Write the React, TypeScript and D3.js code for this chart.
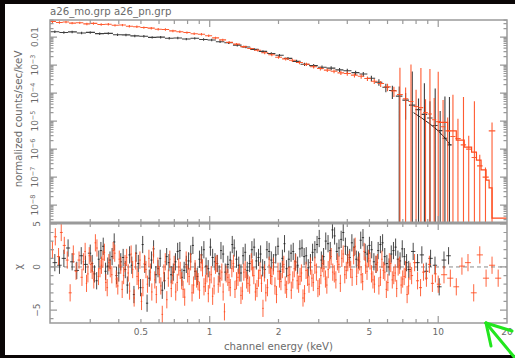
import React from "react";
import * as d3 from "d3";

// ---------- text ----------
const titleText = "a26_mo.grp a26_pn.grp";
const xAxisTitle = "channel energy (keV)";
const yAxisTitle = "normalized counts/sec/keV";
const resAxisTitle = "χ";
const xTickLabels = [0.5, 1, 2, 5, 10, 20];
const fluxTickExponents = [-8, -7, -6, -5, -4, -3, -2];
const resTickLabels = [-5, 0, 5];

// ---------- upper panel: MOS (black) ----------
const mosE = [0.21, 0.23, 0.25, 0.275, 0.3, 0.33, 0.36, 0.395, 0.43, 0.47,
  0.515, 0.56, 0.61, 0.665, 0.725, 0.79, 0.86, 0.94, 1.02, 1.11,
  1.21, 1.32, 1.44, 1.57, 1.71, 1.86, 2.02, 2.2, 2.4, 2.6,
  2.85, 3.1, 3.4, 3.7, 4.0, 4.35, 4.7, 5.1, 5.5, 5.9,
  6.3, 6.75, 7.2, 7.7, 8.2, 8.7, 9.2, 9.7, 10.2, 10.7, 11.2];
const mosFlux = [1.55e-2, 1.46e-2, 1.53e-2, 1.40e-2, 1.47e-2, 1.33e-2, 1.36e-2, 1.21e-2, 1.20e-2, 1.10e-2,
  1.07e-2, 0.98e-2, 9.95e-3, 9.10e-3, 9.30e-3, 8.50e-3, 9.05e-3, 8.20e-3, 7.85e-3, 6.80e-3,
  6.25e-3, 5.15e-3, 4.45e-3, 3.65e-3, 3.08e-3, 2.58e-3, 2.24e-3, 1.74e-3, 1.36e-3, 1.07e-3,
  9.55e-4, 8.32e-4, 7.80e-4, 6.76e-4, 6.31e-4, 5.37e-4, 4.79e-4, 3.39e-4, 2.45e-4, 1.62e-4,
  1.23e-4, 7.76e-5, 5.62e-5, 3.72e-5, 2.57e-5, 1.74e-5, 1.29e-5, 6.92e-6, 4.57e-6, 2.45e-6, 1.41e-6];
const mosRelErr = [0.1, 0.1, 0.1, 0.1, 0.1, 0.1, 0.1, 0.1, 0.1, 0.1,
  0.1, 0.1, 0.1, 0.1, 0.1, 0.1, 0.1, 0.1, 0.1, 0.1,
  0.1, 0.1, 0.1, 0.1, 0.11, 0.11, 0.12, 0.12, 0.13, 0.13,
  0.14, 0.15, 0.16, 0.17, 0.17, 0.18, 0.19, 0.22, 0.26, 0.34,
  0.5, 1.2, 0.8, 15, 1.5, 12, 3, 20, 4, 30, 50];
const mosModelE = [7.8, 8.5, 9.2, 10.0, 10.7, 11.3];
const mosModel = [2.0e-5, 1.26e-5, 7.9e-6, 4.5e-6, 2.5e-6, 1.38e-6];

// ---------- upper panel: PN (red) ----------
const pnE = [0.205, 0.22, 0.235, 0.25, 0.27, 0.29, 0.31, 0.335, 0.36, 0.385,
  0.415, 0.445, 0.48, 0.515, 0.555, 0.595, 0.64, 0.69, 0.74, 0.795,
  0.855, 0.92, 0.99, 1.06, 1.14, 1.22, 1.31, 1.41, 1.51, 1.62,
  1.74, 1.87, 2.0, 2.15, 2.3, 2.47, 2.65, 2.85, 3.05, 3.27,
  3.5, 3.75, 4.0, 4.3, 4.6, 4.9, 5.25, 5.6, 6.0, 6.4,
  6.8, 7.2, 7.6, 8.0, 8.4, 8.8, 9.2, 9.6, 10.0, 10.5,
  11.0, 11.6, 12.2, 12.9, 13.6, 14.4, 15.2, 16.1, 17.2];
const pnFlux = [3.63e-2, 3.31e-2, 3.47e-2, 3.16e-2, 3.24e-2, 2.95e-2, 3.09e-2, 2.82e-2, 2.88e-2, 2.63e-2,
  2.69e-2, 2.45e-2, 2.34e-2, 2.19e-2, 2.09e-2, 1.91e-2, 1.86e-2, 1.66e-2, 1.55e-2, 1.45e-2,
  1.32e-2, 1.26e-2, 1.12e-2, 9.33e-3, 7.94e-3, 6.46e-3, 5.62e-3, 4.57e-3, 3.89e-3, 3.39e-3,
  2.75e-3, 2.34e-3, 1.91e-3, 1.66e-3, 1.48e-3, 1.23e-3, 1.07e-3, 8.71e-4, 7.59e-4, 6.61e-4,
  6.03e-4, 5.25e-4, 5.01e-4, 4.37e-4, 3.98e-4, 3.31e-4, 2.63e-4, 2.19e-4, 1.66e-4, 1.20e-4,
  8.91e-5, 6.31e-5, 5.01e-5, 3.31e-5, 3.02e-5, 2.0e-5, 1.78e-5, 1.12e-5, 9.55e-6, 6.31e-6,
  4.47e-6, 2.82e-6, 2.40e-6, 1.41e-6, 1.0e-6, 5.01e-7, 2.51e-7, 1.0e-7, 4.47e-6];
const pnRelErr = [0.12, 0.1, 0.1, 0.1, 0.1, 0.1, 0.1, 0.1, 0.1, 0.1,
  0.1, 0.1, 0.1, 0.1, 0.1, 0.1, 0.1, 0.1, 0.1, 0.1,
  0.1, 0.1, 0.1, 0.1, 0.1, 0.1, 0.1, 0.1, 0.1, 0.1,
  0.11, 0.11, 0.12, 0.12, 0.13, 0.13, 0.14, 0.14, 0.15, 0.15,
  0.15, 0.16, 0.17, 0.17, 0.18, 0.19, 0.2, 0.24, 0.3, 0.4,
  8, 1.5, 20, 3, 25, 2, 40, 5, 60, 8,
  2, 30, 4, 50, 2, 100, 1.5, 1.2, 1.0];
const pnModelE = [10.0, 11.0, 12.0, 13.0, 14.0, 14.7, 15.4, 16.2, 16.7, 17.2, 20.0];
const pnModel = [9.0e-6, 4.5e-6, 2.1e-6, 1.17e-6, 7.8e-7, 4.0e-7, 1.8e-7, 7.8e-8, 4.1e-8, 3.4e-9, 3.4e-9];

// ---------- lower panel: residuals (MOS) ----------
const mosResE = [0.21, 0.22, 0.23, 0.24, 0.25, 0.262, 0.274, 0.286, 0.3, 0.313,
  0.327, 0.342, 0.358, 0.374, 0.391, 0.408, 0.427, 0.446, 0.466, 0.487,
  0.509, 0.532, 0.556, 0.581, 0.607, 0.634, 0.663, 0.693, 0.724, 0.756,
  0.79, 0.826, 0.863, 0.902, 0.943, 0.985, 1.03, 1.08, 1.12, 1.17,
  1.23, 1.28, 1.34, 1.4, 1.46, 1.53, 1.6, 1.67, 1.74, 1.82,
  1.9, 1.99, 2.08, 2.17, 2.27, 2.37, 2.48, 2.59, 2.7, 2.82,
  2.95, 3.08, 3.22, 3.37, 3.52, 3.68, 3.84, 4.01, 4.19, 4.38,
  4.58, 4.79, 5.0, 5.23, 5.46, 5.71, 5.96, 6.23, 6.51, 6.81,
  7.11, 7.43, 7.77, 8.12, 8.48, 8.86, 9.26, 9.68, 10.1, 10.6, 11.1];
const mosRes = [0.5, 0.2, 1.0, 2.2, 0.6, -0.4, 1.3, 0.3, 1.6, -0.8,
  0.9, 2.4, 0.1, 1.2, -1.0, 0.6, -0.3, 1.4, -3.2, 0.4,
  2.6, -4.2, 0.8, -0.9, 1.0, -1.6, 0.5, -0.6, 1.8, -1.2,
  0.3, 1.5, -0.5, 0.9, 2.0, -0.2, 1.1, 0.4, 1.9, -0.6,
  0.8, 2.2, 0.2, 1.3, -0.4, 2.0, 0.7, 1.5, -0.3, 1.8,
  0.5, 2.4, 1.0, -0.2, 1.6, 0.6, 2.1, 1.2, -0.1, 1.7,
  2.6, 0.8, 3.0, 1.9, 3.6, 2.2, 4.0, 1.4, 2.8, 0.9,
  3.1, 1.7, 2.5, 0.6, 1.9, 2.8, 0.4, 1.5, 2.3, 0.7,
  1.2, -0.3, 1.8, 0.5, 1.4, -0.5, 1.0, 0.2, -2.3, 0.8, 1.3];
const mosResE2 = [0.306, 0.32, 0.334, 0.35, 0.366, 0.382, 0.4, 0.418, 0.436, 0.456,
  0.476, 0.498, 0.52, 0.544, 0.568, 0.594, 0.62, 0.648, 0.678, 0.708,
  0.74, 0.773, 0.808, 0.844, 0.882, 0.922, 0.964, 1.007, 1.055, 1.1,
  1.145, 1.2, 1.255, 1.31, 1.37, 1.43, 1.495, 1.565, 1.635, 1.705,
  1.78, 1.86, 1.945, 2.035, 2.125, 2.22, 2.32, 2.425, 2.535, 2.645,
  2.76, 2.885, 3.015, 3.15, 3.295, 3.445, 3.6, 3.76, 3.925, 4.1,
  4.285, 4.48, 4.685, 4.895, 5.115, 5.345, 5.585, 5.835, 6.095, 6.37,
  6.66, 6.96, 7.27];
const mosRes2 = [0.4, -1.6, 1.9, -0.5, 0.8, 2.9, -0.7, 1.1, -2.1, 0.2,
  1.6, -2.4, 0.3, -1.3, 2.1, -0.2, -2.7, 1.2, -0.9, 0.6,
  1.9, -0.4, 0.7, 2.5, -1.1, 1.4, 0.1, 2.3, 0.6, -0.8,
  1.5, 0.3, 2.6, 0.9, -0.7, 1.7, 0.4, 2.3, 1.1, -0.1,
  2.0, 0.8, 1.4, -0.5, 2.7, 0.9, 1.8, 0.2, 2.2, 1.3,
  0.5, 2.0, 3.3, 1.2, 2.7, 4.3, 1.8, 3.2, 2.4, 1.1,
  2.3, 0.8, 3.4, 1.5, 2.0, 0.3, 2.6, 1.2, 0.0, 1.9,
  0.9, 2.1, 0.5];

// ---------- lower panel: residuals (PN) ----------
const pnResE = [0.205, 0.211, 0.218, 0.224, 0.231, 0.238, 0.245, 0.253, 0.26, 0.268,
  0.276, 0.285, 0.293, 0.302, 0.311, 0.321, 0.331, 0.341, 0.351, 0.362,
  0.373, 0.384, 0.396, 0.408, 0.42, 0.433, 0.446, 0.46, 0.474, 0.488,
  0.503, 0.518, 0.534, 0.55, 0.567, 0.584, 0.602, 0.62, 0.639, 0.659,
  0.679, 0.699, 0.721, 0.743, 0.765, 0.789, 0.813, 0.837, 0.863, 0.889,
  0.916, 0.944, 0.973, 1.0, 1.03, 1.06, 1.09, 1.13, 1.16, 1.2,
  1.23, 1.27, 1.31, 1.35, 1.39, 1.43, 1.47, 1.52, 1.56, 1.61,
  1.66, 1.71, 1.76, 1.82, 1.87, 1.93, 1.99, 2.05, 2.11, 2.17,
  2.24, 2.31, 2.38, 2.45, 2.52, 2.6, 2.68, 2.76, 2.84, 2.93,
  3.02, 3.11, 3.21, 3.3, 3.4, 3.51, 3.62, 3.73, 3.84, 3.96,
  4.08, 4.2, 4.33, 4.46, 4.6, 4.74, 4.88, 5.03, 5.18, 5.34,
  5.5, 5.67, 5.84, 6.02, 6.2, 6.39, 6.58, 6.78, 6.99, 7.2,
  7.42, 7.65, 7.88, 8.12, 8.37, 8.62, 8.88, 9.15, 9.43, 9.72,
  10.0, 10.6, 11.3, 12.0, 12.7, 13.5, 14.3, 15.2, 16.2, 17.2, 18.3];
const pnRes = [2.0, 3.5, 1.2, 4.0, 2.5, 0.8, -3.0, 1.5, -0.5, 0.8,
  -1.2, 1.8, -0.8, 0.3, -1.5, 2.2, -0.2, 0.9, -1.8, 0.5,
  -0.9, 1.6, -2.2, 0.2, -1.0, 1.1, -2.8, -0.3, 0.7, -1.6,
  -4.0, 0.4, -2.0, -0.6, 1.4, -3.2, -0.9, -5.5, 0.6, -1.3,
  -2.5, 0.3, -1.8, -0.4, -2.6, 0.8, -1.1, -3.0, -0.2, -1.7,
  0.5, -2.3, -0.8, -1.5, -3.4, 0.2, -2.0, -0.6, -5.2, -1.2,
  -2.4, 0.4, -1.6, -0.7, -2.8, -0.3, -1.9, 0.6, -1.0, -2.5,
  -0.4, -4.8, -3.0, 0.2, -1.1, -2.2, -0.5, -1.7, 0.3, -2.6,
  -0.9, -1.5, 0.5, -2.0, -0.7, -3.1, -1.2, 0.1, -1.8, -0.6,
  -2.3, 0.4, -1.4, -0.3, 1.2, -0.8, 0.6, -1.9, 1.5, -0.4,
  0.9, -1.2, 2.4, 0.2, -0.9, 1.8, -0.5, 0.7, -1.5, 0.3,
  -2.2, 0.9, -0.6, -1.8, 0.4, -1.0, -2.5, 0.2, -1.4, -0.3,
  -2.2, -1.0, 0.5, -1.6, -2.4, -0.6, -1.3, 0.3, -1.9, -0.8,
  -2.0, -0.9, -1.3, -2.3, 0.1, 0.5, -3.0, 1.4, -1.3, 0.2, -1.3];
const pnResE2 = [0.28, 0.289, 0.297, 0.306, 0.316, 0.326, 0.336, 0.346, 0.356, 0.367,
  0.378, 0.39, 0.402, 0.414, 0.426, 0.44, 0.453, 0.467, 0.481, 0.495,
  0.51, 0.526, 0.542, 0.558, 0.575, 0.593, 0.611, 0.63, 0.649, 0.669,
  0.689, 0.71, 0.732, 0.754, 0.777, 0.801, 0.825, 0.85, 0.876, 0.902,
  0.93, 0.958, 0.986, 1.015, 1.045, 1.075, 1.11, 1.145, 1.18, 1.215,
  1.25, 1.29, 1.33, 1.37, 1.41, 1.45, 1.495, 1.54, 1.585, 1.635,
  1.685, 1.735, 1.79, 1.845, 1.9, 1.96, 2.02, 2.08, 2.14, 2.205,
  2.275, 2.345, 2.415, 2.485, 2.56, 2.64, 2.72, 2.8, 2.885, 2.975,
  3.065, 3.16, 3.255, 3.35, 3.455, 3.565, 3.675, 3.785, 3.9, 4.02,
  4.14, 4.265, 4.395, 4.53, 4.67, 4.81, 4.955, 5.105, 5.26, 5.42,
  5.585, 5.755, 5.93, 6.11, 6.295, 6.485, 6.68, 6.885, 7.095, 7.31,
  7.53];
const pnRes2 = [0.6, -1.9, 1.3, -0.4, 2.8, -1.1, 0.2, 1.7, -2.4, -0.2,
  1.9, -1.4, 0.9, -2.6, 0.4, -0.7, 1.5, -3.6, -1.1, 0.8,
  -2.4, -0.3, 1.0, -2.9, -1.5, 0.1, -2.2, -0.7, -3.8, 0.9,
  -1.0, -2.9, 0.0, -1.6, -3.5, -0.8, 0.6, -2.1, -1.4, -2.7,
  -0.1, -1.9, -3.1, -0.9, -2.2, 0.4, -1.3, -2.9, -0.8, -1.8,
  -0.2, -2.6, -1.2, -3.3, -0.6, -1.5, -2.1, -0.1, -2.9, -1.3,
  -1.9, -0.7, -2.4, -1.0, 0.1, -3.2, -1.4, -0.3, -2.1, -1.0,
  -2.7, -0.2, -1.6, -1.1, -3.6, -0.4, -2.0, -1.3, 0.2, -2.5,
  -1.0, -0.2, -2.1, 0.8, -0.6, -1.5, 0.3, 1.0, -0.9, 0.5,
  -0.3, 1.3, -1.1, 0.6, -1.7, 0.2, 1.0, -0.8, -2.0, 0.5,
  -1.2, -0.4, -2.6, 0.6, -1.5, -0.7, 0.0, -2.1, -1.1, -3.2,
  -0.5];

// ---------- styling ----------
const MOS_COLOR = "#1c1c1c";
const PN_COLOR = "#ff4a1c";
const AXIS_COLOR = "#9a9a9a";
const TEXT_COLOR = "#6a6a6a";
const FONT = "'DejaVu Sans', 'Liberation Sans', sans-serif";

function binEdges(E: number[]) {
  return E.map((e, i) => {
    const lo = i > 0 ? Math.sqrt(E[i - 1] * e) : e / Math.sqrt(E[1] / E[0]);
    const hi = i < E.length - 1 ? Math.sqrt(e * E[i + 1]) : e * Math.sqrt(E[i] / E[i - 1]);
    return [lo, hi];
  });
}

function mergeChannels(e1: number[], r1: number[], e2: number[], r2: number[]) {
  const rows = e1.map((e, i) => [e, r1[i]]).concat(e2.map((e, i) => [e, r2[i]]));
  rows.sort((a, b) => a[0] - b[0]);
  return { E: rows.map((r) => r[0]), R: rows.map((r) => r[1]) };
}

export default function App() {
  const L = 50, R = 507, T = 20, MID = 223, B = 323;
  const x = d3.scaleLog().domain([0.2, 20]).range([L, R]);
  const yF = d3.scaleLog().domain([Math.pow(10, -8.64), Math.pow(10, -1.39)]).range([MID, T]);
  const yR = d3.scaleLinear().domain([-6.5, 5.1]).range([B, MID]);

  const spectrumPath = (E: number[], F: number[], rel: number[]) => {
    const ed = binEdges(E);
    let p = "";
    E.forEach((e, i) => {
      const v = F[i];
      const err = v * rel[i];
      const yc = yF(v);
      const yt = yF(v + err);
      const yb = v - err > 0 ? yF(v - err) : MID + 5;
      p += `M${x(ed[i][0])},${yc}H${x(ed[i][1])}M${x(e)},${yt}V${yb}`;
    });
    return p;
  };
  const residPath = (E: number[], Rv: number[]) => {
    const ed = binEdges(E);
    let p = "";
    E.forEach((e, i) => {
      const r = Rv[i];
      p += `M${x(ed[i][0])},${yR(r)}H${x(ed[i][1])}M${x(e)},${yR(r + 1)}V${yR(r - 1)}`;
    });
    return p;
  };

  const mosAll = mergeChannels(mosResE, mosRes, mosResE2, mosRes2);
  const pnAll = mergeChannels(pnResE, pnRes, pnResE2, pnRes2);

  // x ticks
  const xTicks: { v: number; major: boolean }[] = [];
  for (const d of [0.1, 1, 10]) {
    for (let k = 1; k <= 9; k++) {
      const v = k * d;
      if (v > 0.2 && v < 20) xTicks.push({ v, major: k === 1 });
    }
  }
  let xTickPath = "";
  xTicks.forEach((t) => {
    const xx = x(t.v);
    const len = t.major ? 7 : 4;
    xTickPath += `M${xx},${T}V${T + len}M${xx},${MID - len}V${MID + len}M${xx},${B}V${B - len}`;
  });

  // flux ticks
  let yTickPath = "";
  for (let n = -9; n <= -1; n++) {
    for (let k = 1; k <= 9; k++) {
      const v = k * Math.pow(10, n);
      const [d0, d1] = yF.domain();
      if (v <= d0 || v >= d1) continue;
      const yy = yF(v);
      const len = k === 1 ? 7 : 3.5;
      yTickPath += `M${L},${yy}H${L + len}M${R},${yy}H${R - len}`;
    }
  }
  // residual ticks
  for (let r = -6; r <= 5; r++) {
    const yy = yR(r);
    const len = r % 5 === 0 ? 7 : 3.5;
    yTickPath += `M${L},${yy}H${L + len}M${R},${yy}H${R - len}`;
  }

  const modelLine = d3.line<number>().x((_, i) => x(mosModelE[i])).y((d) => yF(d));
  const pnStep = d3
    .line<number>()
    .x((_, i) => x(pnModelE[i]))
    .y((d) => yF(d))
    .curve(d3.curveStepAfter);

  return (
    <svg
      width={515}
      height={358}
      style={{ position: "absolute", left: 0, top: 0, display: "block" }}
      fontFamily={FONT}
    >
      <defs>
        <clipPath id="upClip">
          <rect x={L} y={T} width={R - L} height={MID - T} />
        </clipPath>
        <clipPath id="loClip">
          <rect x={L} y={MID} width={R - L} height={B - MID} />
        </clipPath>
      </defs>
      <rect x={0} y={0} width={515} height={358} fill="#0a0606" />
      <rect x={5} y={4} width={510} height={351} fill="#ffffff" />

      <text x={L} y={14.5} fontSize={10.2} fill={TEXT_COLOR}>
        {titleText}
      </text>

      {/* upper panel data */}
      <g clipPath="url(#upClip)" fill="none">
        <path d={spectrumPath(mosE, mosFlux, mosRelErr)} stroke={MOS_COLOR} strokeWidth={1.1} opacity={0.85} />
        <path d={modelLine(mosModel) || ""} stroke={MOS_COLOR} strokeWidth={1} />
        <path d={spectrumPath(pnE, pnFlux, pnRelErr)} stroke={PN_COLOR} strokeWidth={1.1} opacity={0.9} />
        <path d={pnStep(pnModel) || ""} stroke={PN_COLOR} strokeWidth={1.2} />
      </g>

      {/* lower panel data */}
      <g clipPath="url(#loClip)" fill="none">
        <line x1={L} x2={R} y1={yR(0)} y2={yR(0)} stroke="#8a8a8a" strokeWidth={1} strokeDasharray="4,3" />
        <path d={residPath(mosAll.E, mosAll.R)} stroke={MOS_COLOR} strokeWidth={1} opacity={0.8} />
        <path d={residPath(pnAll.E, pnAll.R)} stroke={PN_COLOR} strokeWidth={1} opacity={0.85} />
      </g>

      {/* frames & ticks */}
      <g fill="none" stroke={AXIS_COLOR}>
        <rect x={L} y={T} width={R - L} height={B - T} strokeWidth={1.5} />
        <line x1={L} x2={R} y1={MID} y2={MID} strokeWidth={3} />
        <path d={xTickPath} strokeWidth={1.2} />
        <path d={yTickPath} strokeWidth={1.2} />
      </g>

      {/* x tick labels */}
      {xTickLabels.map((v) => (
        <text key={v} x={x(v)} y={335} fontSize={9} fill={TEXT_COLOR} textAnchor="middle">
          {String(v)}
        </text>
      ))}
      <text x={(L + R) / 2} y={350} fontSize={10.2} fill={TEXT_COLOR} textAnchor="middle">
        {xAxisTitle}
      </text>

      {/* flux tick labels */}
      {fluxTickExponents.map((n) => (
        <text
          key={n}
          transform={`translate(38,${yF(Math.pow(10, n))}) rotate(-90)`}
          fontSize={9}
          fill={TEXT_COLOR}
          textAnchor="middle"
        >
          {n === -2 ? (
            "0.01"
          ) : (
            <>
              <tspan>10</tspan>
              <tspan dy={-3.5} fontSize={6.5}>
                {"−" + Math.abs(n)}
              </tspan>
            </>
          )}
        </text>
      ))}
      <text
        transform={`translate(22,119) rotate(-90)`}
        fontSize={10.2}
        fill={TEXT_COLOR}
        textAnchor="middle"
      >
        {yAxisTitle}
      </text>

      {/* residual labels */}
      {resTickLabels.map((r) => (
        <text
          key={r}
          transform={`translate(40,${yR(r)}) rotate(-90)`}
          fontSize={9}
          fill={TEXT_COLOR}
          textAnchor="middle"
        >
          {r < 0 ? "−" + Math.abs(r) : String(r)}
        </text>
      ))}
      <text transform={`translate(22,${yR(0)}) rotate(-90)`} fontSize={10} fill={TEXT_COLOR} textAnchor="middle">
        {resAxisTitle}
      </text>

      {/* green annotation arrow */}
      <g stroke="#22e61e" strokeWidth={3} strokeLinecap="round" fill="none">
        <path d="M486,323L520,364" />
        <path d="M486,323L512,331" />
        <path d="M486,323L491,346" />
      </g>
    </svg>
  );
}
